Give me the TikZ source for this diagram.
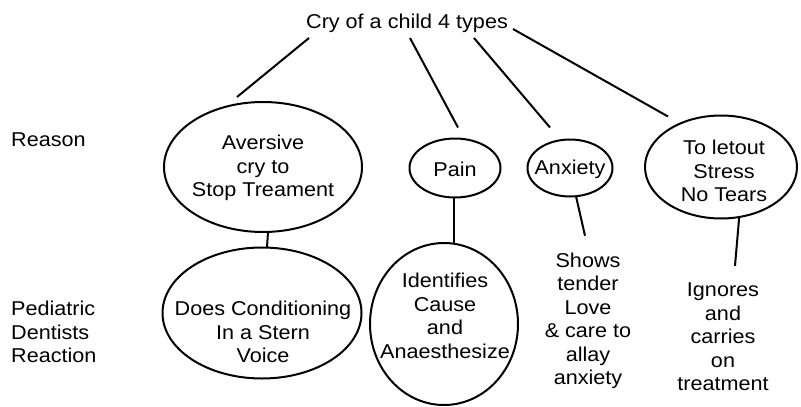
\documentclass[tikz,border=0pt]{standalone}
\usepackage{fontspec}
\setmainfont[FakeStretch=1.08]{Liberation Sans}
\usetikzlibrary{shapes.geometric}
\begin{document}
\begin{tikzpicture}[x=1pt,y=-1pt,
  bubble/.style={draw,ellipse,line width=2pt,inner sep=0pt,outer sep=0pt},
  txt/.style={inner sep=0pt,align=center,font=\fontsize{20}{23.5}\selectfont},
  side/.style={inner sep=0pt,align=left,anchor=west,font=\fontsize{20}{23.5}\selectfont},
  link/.style={line width=2pt}]
\useasboundingbox (0,0) rectangle (801,407);

% title
\node[txt,anchor=base] (title) at (407,28) {Cry of a child 4 types};

% row captions
\node[side] (reason) at (11,140) {Reason};
\node[side] (react) at (11,332) {Pediatric\\Dentists\\Reaction};

% reasons (upper row)
\node[bubble,minimum width=198pt,minimum height=130pt] (e1) at (263,167) {};
\node[txt] (t1) at (263,168) {Aversive\\cry to\\Stop Treament};

\node[bubble,minimum width=91pt,minimum height=59pt] (pain) at (455,168) {};
\node[txt] (tpain) at (455,169) {Pain};

\node[bubble,minimum width=85pt,minimum height=57pt] (anx) at (570,168) {};
\node[txt] (tanx) at (570,169) {Anxiety};

\node[bubble,minimum width=152pt,minimum height=103pt] (e5) at (721,167) {};
\node[txt] (t5) at (724,171) {To letout\\Stress\\No Tears};

% reactions (lower row)
\node[bubble,minimum width=199pt,minimum height=131pt] (e2) at (262,313) {};
\node[txt] (t2) at (263,332) {Does Conditioning\\In a Stern\\Voice};

\node[bubble,minimum width=148pt,minimum height=162pt] (idf) at (444,324) {};
\node[txt] (tidf) at (445,316) {Identifies\\Cause\\and\\Anaesthesize};

\node[txt] (shows) at (588,321) {Shows\\tender\\Love\\\& care to\\allay\\anxiety};
\node[txt] (ign) at (723,337) {Ignores\\and\\carries\\on\\treatment};

% connectors from the title
\draw[link] ([shift={(-98,10)}]title.base) -- ([shift={(-26,-5)}]e1.north);
\draw[link] ([shift={(3,10)}]title.base) -- ([shift={(3,-11)}]pain.north);
\draw[link] ([shift={(67,10)}]title.base) -- ([shift={(-20,-12)}]anx.north);
\draw[link] ([shift={(106,1)}]title.base) -- ([shift={(-53,1)}]e5.north);

% connectors from reasons to reactions
\draw[link] ([xshift=5pt]e1.south) -- ([xshift=5pt]e2.north);
\draw[link] ([xshift=-1pt]pain.south) -- ([xshift=-1pt]pain.south |- idf.north);
\draw[link] (anx.-78) -- ([shift={(-3,-17)}]shows.north);
\draw[link] (e5.-70) -- ([shift={(12,-17)}]ign.north);
\end{tikzpicture}
\end{document}
